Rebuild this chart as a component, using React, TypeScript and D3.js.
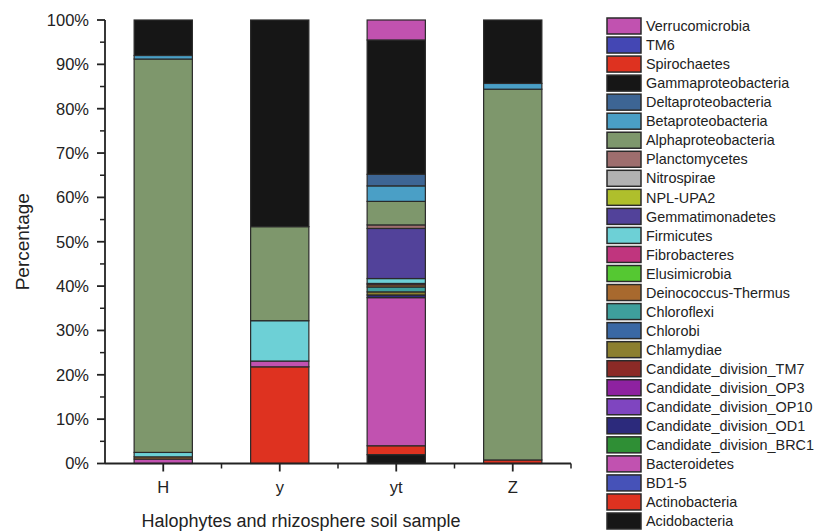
import React from "react";
import * as d3 from "d3";

// samples on the x axis
const samples = ["H", "y", "yt", "Z"];

// taxa, bottom of the stack first (legend shows them reversed)
const taxa = [
  "Acidobacteria",
  "Actinobacteria",
  "BD1-5",
  "Bacteroidetes",
  "Candidate_division_BRC1",
  "Candidate_division_OD1",
  "Candidate_division_OP10",
  "Candidate_division_OP3",
  "Candidate_division_TM7",
  "Chlamydiae",
  "Chlorobi",
  "Chloroflexi",
  "Deinococcus-Thermus",
  "Elusimicrobia",
  "Fibrobacteres",
  "Firmicutes",
  "Gemmatimonadetes",
  "NPL-UPA2",
  "Nitrospirae",
  "Planctomycetes",
  "Alphaproteobacteria",
  "Betaproteobacteria",
  "Deltaproteobacteria",
  "Gammaproteobacteria",
  "Spirochaetes",
  "TM6",
  "Verrucomicrobia",
];

const colors = [
  "#161616", "#de3220", "#4652b8", "#c152b0", "#2f8f35", "#2c2a7c", "#7f45c0",
  "#8e22a0", "#8c2a26", "#8c7f2e", "#3a68a4", "#3e9f9c", "#a8692e", "#55c832",
  "#c0357e", "#6dd0d6", "#52429a", "#afbf2c", "#b2b2b2", "#9e6e6e", "#7e976c",
  "#4a9fc6", "#3d6594", "#161616", "#de3220", "#4447b4", "#c152b0",
];

// percentages per taxon, in sample order H, y, yt, Z
const valH = [0, 0, 0, 1.0, 0, 0, 0, 0, 0, 0, 0, 0, 0.5, 0, 0, 1.0, 0, 0, 0, 0, 88.7, 0.8, 0, 8.0, 0, 0, 0];
const valY = [0, 21.8, 0, 1.3, 0, 0, 0, 0, 0, 0, 0, 0, 0, 0, 0, 9.1, 0, 0, 0, 0, 21.2, 0, 0, 46.6, 0, 0, 0];
const valYt = [2.0, 2.0, 0, 33.4, 0, 0.6, 0, 0, 0, 0.7, 0, 1.1, 0.5, 0, 0.3, 1.1, 11.3, 0, 0, 0.8, 5.3, 3.5, 2.6, 30.3, 0, 0, 4.5];
const valZ = [0, 0.8, 0, 0, 0, 0, 0, 0, 0, 0, 0, 0, 0, 0, 0, 0, 0, 0, 0, 0, 83.6, 1.3, 0, 14.3, 0, 0, 0];

const yTicks = [0, 10, 20, 30, 40, 50, 60, 70, 80, 90, 100];

const W = 817;
const H = 531;
const left = 105;
const right = 571;
const top = 20;
const bottom = 463.5;
const font = "Arial, 'Liberation Sans', Helvetica, sans-serif";

export default function App() {
  const x = d3.scaleBand<string>().domain(samples).range([left, right]).padding(0);
  const y = d3.scaleLinear().domain([0, 100]).range([bottom, top]);
  const barW = x.bandwidth() * 0.5;

  const rows = samples.map((s, i) => {
    const row: Record<string, any> = { sample: s };
    const vals = [valH, valY, valYt, valZ][i];
    taxa.forEach((t, j) => (row[t] = vals[j]));
    return row;
  });
  const series = d3.stack<any>().keys(taxa)(rows);
  const color = d3.scaleOrdinal<string, string>().domain(taxa).range(colors);

  const minor = d3.range(5, 100, 10);
  const xEdges = [1, 2, 3, 4].map((i) => left + i * x.step());

  const legendItems = taxa.slice().reverse();
  const legY = d3.scalePoint<string>().domain(legendItems).range([26, 521]);

  return (
    <svg width={W} height={H} style={{ position: "absolute", left: 0, top: 0, background: "#fff" }} fontFamily={font}>
      {series.map((s) => (
        <g key={s.key} fill={color(s.key)}>
          {s.map((d) =>
            d[1] - d[0] > 0 ? (
              <rect
                key={d.data.sample}
                x={(x(d.data.sample) as number) + (x.bandwidth() - barW) / 2}
                y={y(d[1])}
                width={barW}
                height={y(d[0]) - y(d[1])}
                stroke="#2a2a2a"
                strokeWidth={1.2}
              />
            ) : null
          )}
        </g>
      ))}

      {/* y axis */}
      <line x1={left} x2={left} y1={top} y2={bottom} stroke="#222" strokeWidth={1.8} />
      {yTicks.map((t) => (
        <g key={t}>
          <line x1={left - 8} x2={left} y1={y(t)} y2={y(t)} stroke="#222" strokeWidth={1.8} />
          <text x={left - 16} y={y(t)} dy="0.36em" textAnchor="end" fontSize={16.5} fill="#222">
            {t}%
          </text>
        </g>
      ))}
      {minor.map((t) => (
        <line key={t} x1={left - 5} x2={left} y1={y(t)} y2={y(t)} stroke="#222" strokeWidth={1.5} />
      ))}

      {/* x axis */}
      <line x1={left} x2={right} y1={bottom} y2={bottom} stroke="#222" strokeWidth={1.8} />
      {samples.map((s) => (
        <g key={s}>
          <line
            x1={(x(s) as number) + x.bandwidth() / 2}
            x2={(x(s) as number) + x.bandwidth() / 2}
            y1={bottom}
            y2={bottom + 8}
            stroke="#222"
            strokeWidth={1.8}
          />
          <text x={(x(s) as number) + x.bandwidth() / 2} y={493} textAnchor="middle" fontSize={16.5} fill="#222">
            {s}
          </text>
        </g>
      ))}
      {xEdges.map((e, i) => (
        <line key={i} x1={e} x2={e} y1={bottom} y2={bottom + 5} stroke="#222" strokeWidth={1.5} />
      ))}

      <text x={301} y={527} textAnchor="middle" fontSize={18} fill="#222">
        Halophytes and rhizosphere soil sample
      </text>
      <text transform={`translate(29,${(top + bottom) / 2}) rotate(-90)`} textAnchor="middle" fontSize={19} fill="#222">
        Percentage
      </text>

      {/* legend */}
      {legendItems.map((t) => (
        <g key={t} transform={`translate(607,${legY(t)})`}>
          <rect x={0} y={-8} width={34} height={16} fill={color(t)} stroke="#2a2a2a" strokeWidth={1.5} />
          <text x={39} y={0} dy="0.36em" fontSize={14.4} fill="#222">
            {t}
          </text>
        </g>
      ))}
    </svg>
  );
}
